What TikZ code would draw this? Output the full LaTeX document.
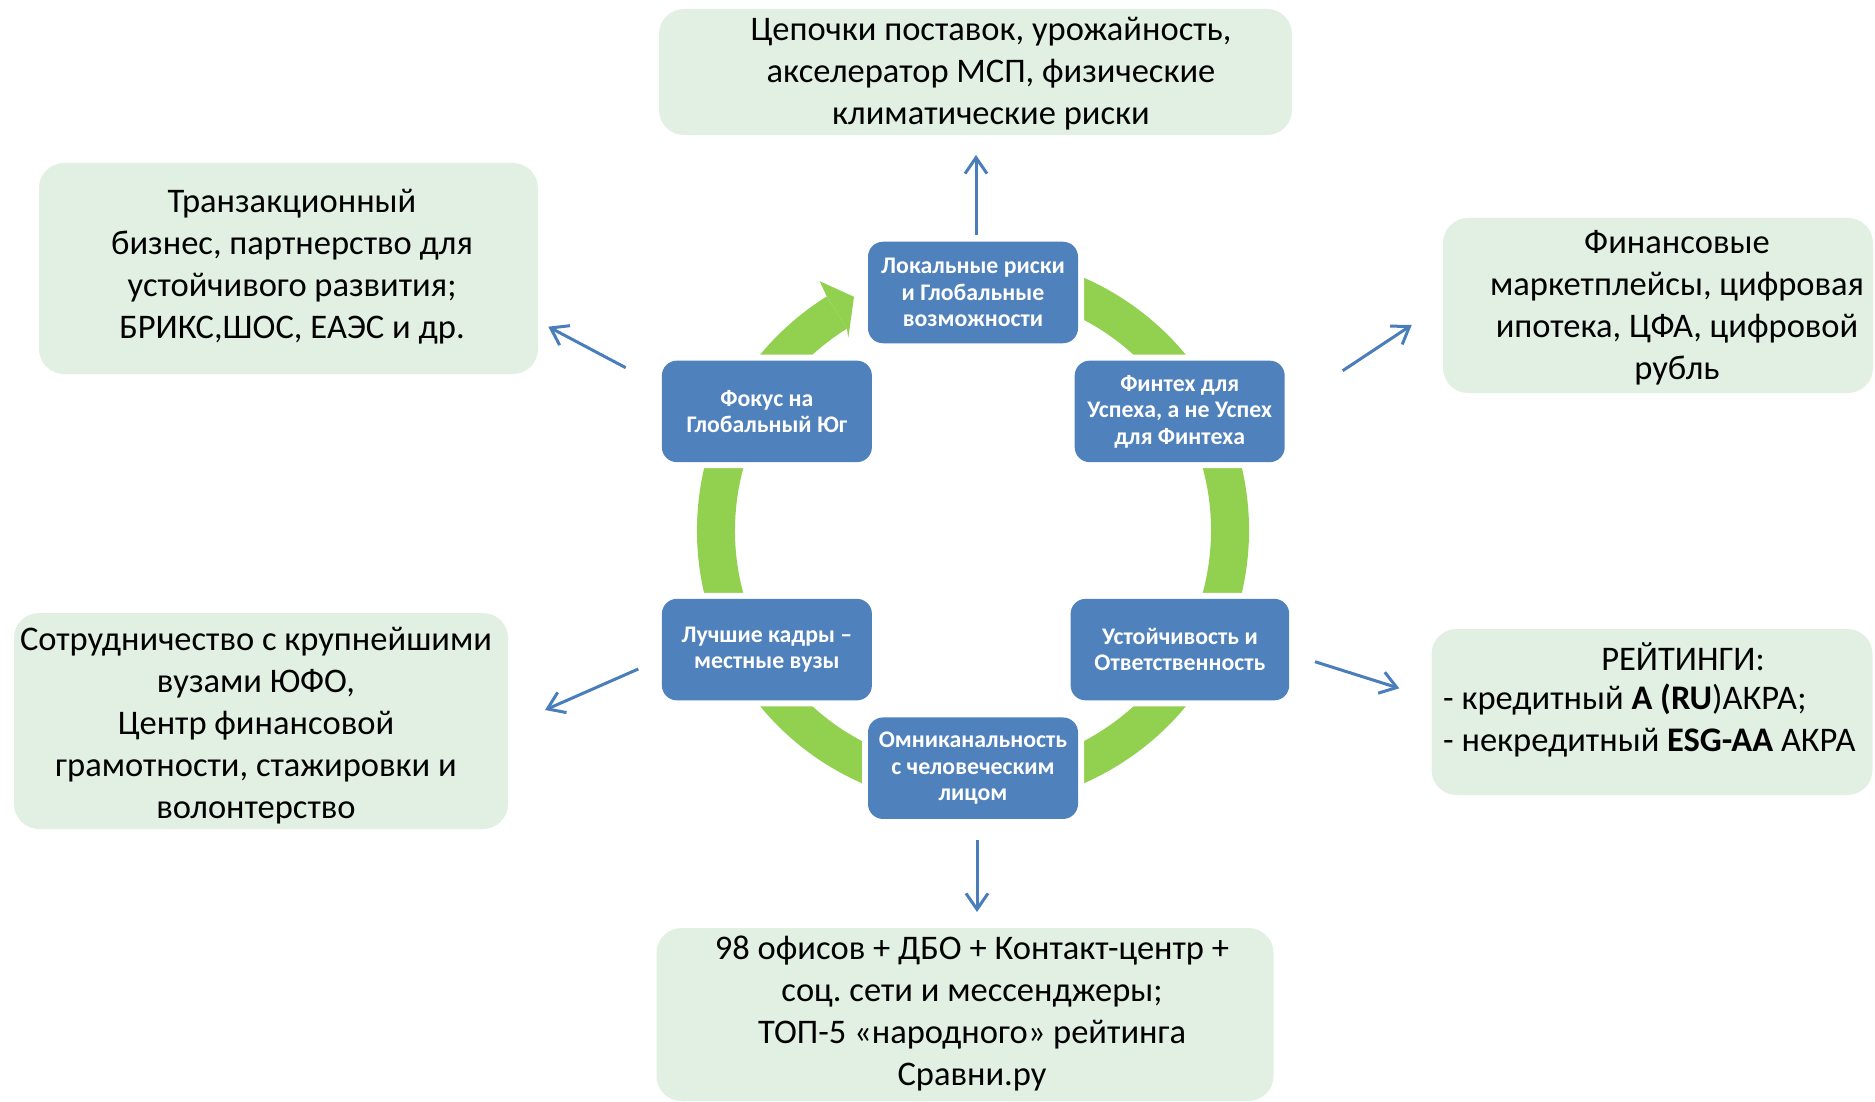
\documentclass[tikz,border=0pt]{standalone}
\usepackage{fontspec}
\setmainfont{Carlito}
\usetikzlibrary{arrows.meta}
\definecolor{bbox}{RGB}{79,129,189}
\definecolor{gring}{RGB}{146,208,80}
\definecolor{gfill}{RGB}{225,240,227}
\definecolor{arrc}{RGB}{74,126,187}
\frenchspacing
\begin{document}
\begin{tikzpicture}[x=1pt,y=-1pt,
  bluebox/.style={preaction={draw=white,line width=12pt}, fill=bbox, rounded corners=15pt,
    text=white, font=\fontsize{23.8}{26.5}\selectfont\bfseries, align=center, inner sep=0pt,
    minimum width=210pt, minimum height=101.5pt},
  greenbox/.style={fill=gfill, rounded corners=25pt, inner sep=0pt},
  gtext/.style={font=\fontsize{34.5}{42}\selectfont\frenchspacing, align=center, inner sep=0pt, text=black},
  conn/.style={draw=arrc, line width=3pt, -{Straight Barb[length=16pt,width=22pt]}}
]
\useasboundingbox (0,0) rectangle (1875,1102);
\clip (0,0) rectangle (1875,1102);

% green boxes
\node[greenbox, minimum width=633pt, minimum height=126pt] (gA) at (975.5,72) {};
\node[greenbox, minimum width=499pt, minimum height=211pt] (gB) at (288.5,268.5) {};
\node[greenbox, minimum width=430pt, minimum height=175pt] (gC) at (1658,305.5) {};
\node[greenbox, minimum width=494pt, minimum height=216pt] (gD) at (261,721) {};
\node[greenbox, minimum width=441pt, minimum height=166pt] (gE) at (1652,712) {};
\node[greenbox, minimum width=617pt, minimum height=173pt] (gF) at (965,1014.5) {};

\node[gtext] (tA) at (991,74) {Цепочки поставок, урожайность,\\акселератор МСП, физические\\климатические риски};
\node[gtext] (tB) at (292,267) {Транзакционный\\бизнес, партнерство для\\устойчивого развития;\\БРИКС,ШОС, ЕАЭС и др.};
\node[gtext] (tC) at (1677,308) {Финансовые\\маркетплейсы, цифровая\\ипотека, ЦФА, цифровой\\рубль};
\node[gtext] (tD) at (256,726) {Сотрудничество с крупнейшими\\вузами ЮФО,\\Центр финансовой\\грамотности, стажировки и\\волонтерство};
\node[gtext] (tE1) at (1683,657) {РЕЙТИНГИ:};
\node[gtext, align=left, anchor=west] (tE2) at (1443,720.5) {- кредитный \textbf{A (RU})АКРА;\\- некредитный \textbf{ESG-AA} АКРА};
\node[gtext] (tF) at (972,1013) {98 офисов + ДБО + Контакт-центр +\\соц. сети и мессенджеры;\\ТОП-5 «народного» рейтинга\\Сравни.ру};

% ring
\begin{scope}[shift={(973,530.5)}, y=1pt]
  \draw[gring, line width=38pt] (122:257) arc[start angle=122, end angle=470, radius=257];
  \fill[gring] (-146.3,234.1) -- (-153.3,249.3) -- (-119,233.7) -- (-124.7,192.7) -- (-126.1,201.8) -- cycle;
\end{scope}

% blue boxes
\node[bluebox] (b1) at (973,292.5) {Локальные риски\\и Глобальные\\возможности};
\node[bluebox] (b2) at (1179.7,411.4) {Финтех для\\Успеха, а не Успех\\для Финтеха};
\node[bluebox, minimum width=218.6pt] (b3) at (1179.9,649.6) {Устойчивость и\\Ответственность};
\node[bluebox] (b4) at (973,768.2) {Омниканальность\\с человеческим\\лицом};
\node[bluebox] (b5) at (766.9,649.6) {Лучшие кадры –\\местные вузы};
\node[bluebox] (b6) at (766.9,411.4) {Фокус на\\Глобальный Юг};

% connectors
\coordinate (a1s) at (976,235);    \coordinate (a1e) at (976,155);
\coordinate (a2s) at (625.7,367.7); \coordinate (a2e) at (548.3,326.7);
\coordinate (a3s) at (1342.7,370.7); \coordinate (a3e) at (1411.7,325);
\coordinate (a4s) at (638.3,669);  \coordinate (a4e) at (545,710);
\coordinate (a5s) at (1315,661.7); \coordinate (a5e) at (1399.3,688.3);
\coordinate (a6s) at (977,839.5);  \coordinate (a6e) at (977,912);
\draw[conn] (a1s) -- (a1e);
\draw[conn] (a2s) -- (a2e);
\draw[conn] (a3s) -- (a3e);
\draw[conn] (a4s) -- (a4e);
\draw[conn] (a5s) -- (a5e);
\draw[conn] (a6s) -- (a6e);
\end{tikzpicture}
\end{document}
